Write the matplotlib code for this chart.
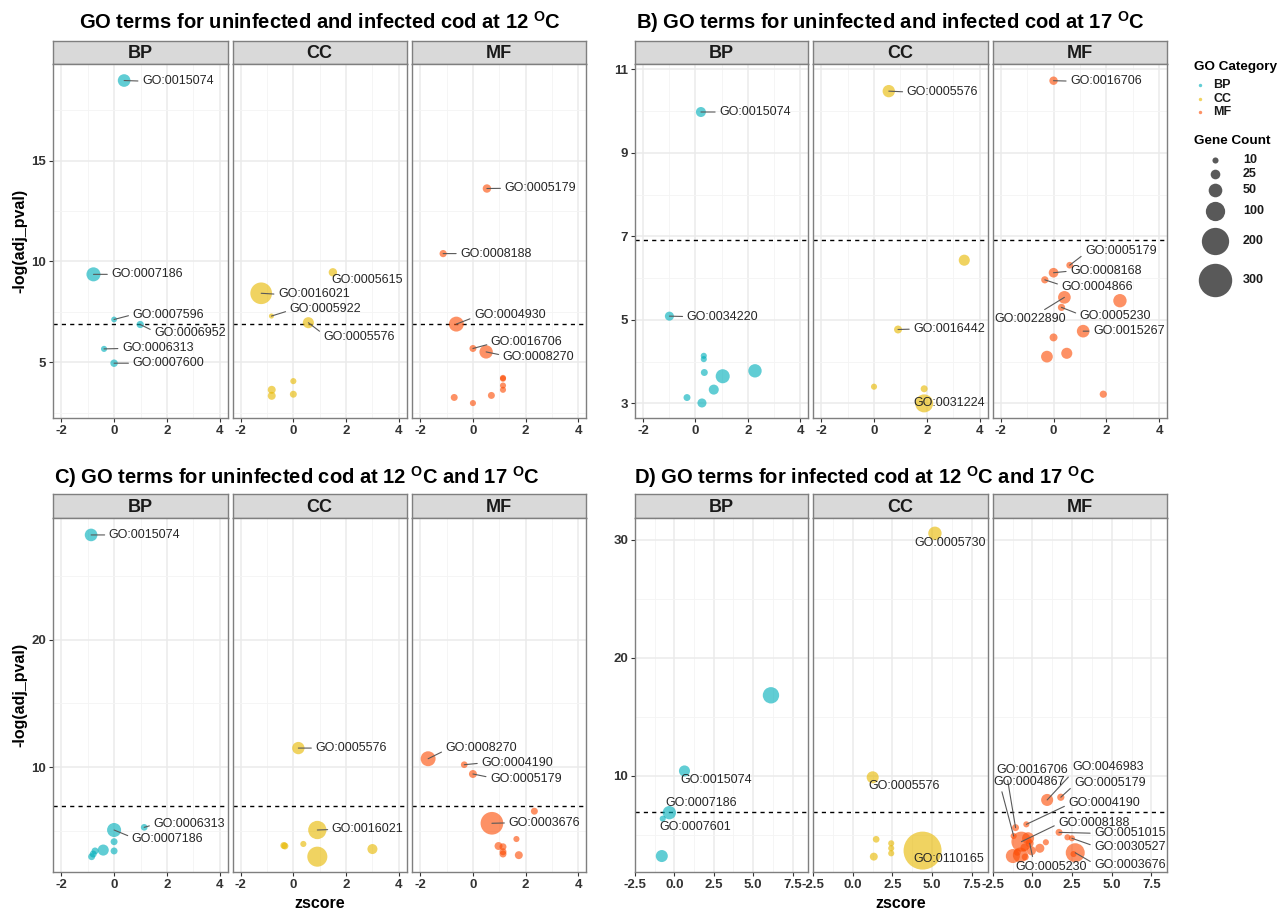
import matplotlib
matplotlib.use("Agg")
import matplotlib.pyplot as plt

plt.rcParams["font.family"] = "Liberation Sans"
plt.rcParams["mathtext.fontset"] = "custom"
plt.rcParams["mathtext.rm"] = "Liberation Sans"
plt.rcParams["mathtext.bf"] = "Liberation Sans:bold"
plt.rcParams["axes.unicode_minus"] = False

W, H = 1284, 913
CATS = ["BP", "CC", "MF"]
COLORS = {"BP": "#00AFBB", "CC": "#E7B800", "MF": "#FC4E07"}
THRESH = 6.908  # -log(0.001)

# ---------------------------------------------------------------------------
# A) uninfected vs infected, 12 C
# ---------------------------------------------------------------------------
a_cat = ["BP"] * 6 + ["CC"] * 8 + ["MF"] * 12
a_z = [0.38, -0.78, 0.0, 0.99, -0.38, 0.0,
       1.5, -1.22, -0.83, 0.57, -0.82, -0.82, 0.0, 0.0,
       0.53, -1.13, -0.63, 0.0, 0.5, 1.14, 1.14, 1.14, 1.14, 0.70, -0.71, 0.0]
a_y = [18.98, 9.36, 7.12, 6.87, 5.66, 4.95,
       9.46, 8.42, 7.29, 6.96, 3.63, 3.33, 4.06, 3.41,
       13.62, 10.39, 6.89, 5.68, 5.51, 4.18, 4.22, 3.84, 3.63, 3.35, 3.25, 2.97]
a_n = [43, 53, 9, 14, 10, 15,
       19, 126, 7, 33, 17, 17, 10, 13,
       19, 14, 60, 13, 48, 10, 10, 10, 10, 13, 13, 10]
a_term = ["GO:0015074", "GO:0007186", "GO:0007596", "GO:0006952", "GO:0006313", "GO:0007600",
          "GO:0005615", "GO:0016021", "GO:0005922", "GO:0005576", "", "", "", "",
          "GO:0005179", "GO:0008188", "GO:0004930", "GO:0016706", "GO:0008270",
          "", "", "", "", "", "", ""]

# ---------------------------------------------------------------------------
# B) uninfected vs infected, 17 C
# ---------------------------------------------------------------------------
b_cat = ["BP"] * 10 + ["CC"] * 6 + ["MF"] * 12
b_z = [0.21, -0.99, 0.32, 0.32, 0.34, 1.04, 2.27, 0.70, -0.32, 0.25,
       0.56, 3.42, 0.91, 0.0, 1.90, 1.90,
       0.0, 0.61, 0.0, -0.33, 0.41, 0.30, 2.51, 1.12, 0.0, -0.25, 0.50, 1.88]
b_y = [9.98, 5.09, 4.14, 4.06, 3.74, 3.65, 3.78, 3.33, 3.14, 3.01,
       10.48, 6.43, 4.77, 3.40, 3.35, 3.00,
       10.73, 6.31, 6.13, 5.96, 5.54, 5.30, 5.46, 4.73, 4.58, 4.12, 4.20, 3.22]
b_n = [27, 22, 10, 10, 13, 53, 48, 27, 13, 22,
       41, 33, 17, 10, 13, 87,
       19, 12, 25, 14, 43, 14, 48, 43, 17, 37, 33, 14]
b_term = ["GO:0015074", "GO:0034220", "", "", "", "", "", "", "", "",
          "GO:0005576", "", "GO:0016442", "", "", "GO:0031224",
          "GO:0016706", "GO:0005179", "GO:0008168", "GO:0004866", "GO:0022890",
          "GO:0005230", "", "GO:0015267", "", "", "", ""]

# ---------------------------------------------------------------------------
# C) uninfected, 12 C vs 17 C
# ---------------------------------------------------------------------------
c_cat = ["BP"] * 9 + ["CC"] * 7 + ["MF"] * 11
c_z = [-0.87, 1.14, 0.0, 0.0, 0.0, -0.41, -0.72, -0.79, -0.85,
       0.19, 0.91, 0.91, -0.36, -0.32, 0.38, 3.0,
       -1.70, -0.33, 0.0, 2.33, 0.72, 1.65, 0.97, 1.14, 1.14, 1.14, 1.74]
c_y = [28.27, 5.25, 5.04, 4.12, 3.39, 3.46, 3.39, 3.15, 2.94,
       11.49, 5.04, 2.94, 3.82, 3.78, 3.94, 3.54,
       10.65, 10.18, 9.45, 6.52, 5.57, 4.33, 3.78, 3.72, 3.33, 3.15, 3.06]
c_n = [43, 12, 53, 13, 13, 33, 13, 13, 13,
       41, 90, 108, 13, 13, 10, 27,
       60, 12, 17, 13, 138, 10, 17, 13, 13, 13, 17]
c_term = ["GO:0015074", "GO:0006313", "GO:0007186", "", "", "", "", "", "",
          "GO:0005576", "GO:0016021", "", "", "", "", "",
          "GO:0008270", "GO:0004190", "GO:0005179", "", "GO:0003676",
          "", "", "", "", "", ""]

# ---------------------------------------------------------------------------
# D) infected, 12 C vs 17 C
# ---------------------------------------------------------------------------
d_cat = ["BP"] * 5 + ["CC"] * 8 + ["MF"] * 21
d_z = [6.13, 0.64, -0.32, -0.74, -0.80,
       5.18, 1.25, 4.40, 1.47, 1.32, 2.42, 2.42, 2.42,
       0.93, 1.79, -0.38, -1.06, -1.18, -0.69, -0.27, -0.17, -0.06, -0.76, -1.23,
       0.47, 0.85, 1.68, 2.21, 2.49, 2.70, 2.59, -0.50, -0.95, -0.45]
d_y = [16.82, 10.40, 6.86, 6.35, 3.18,
       30.57, 9.86, 3.64, 4.60, 3.13, 4.26, 3.84, 3.41,
       7.94, 8.17, 5.87, 5.59, 4.88, 4.40, 4.69, 4.26, 3.63, 3.27, 3.18,
       3.84, 4.35, 5.19, 4.77, 4.69, 3.46, 3.35, 3.90, 3.50, 3.10]
d_n = [72, 33, 48, 10, 39,
       48, 39, 388, 12, 17, 10, 10, 10,
       39, 14, 10, 13, 10, 108, 39, 17, 22, 60, 53,
       22, 10, 13, 10, 10, 97, 10, 17, 13, 13]
d_term = ["", "GO:0015074", "GO:0007186", "GO:0007601", "",
          "GO:0005730", "GO:0005576", "GO:0110165", "", "", "", "", "",
          "GO:0046983", "GO:0005179", "GO:0004190", "GO:0016706", "GO:0004867",
          "GO:0008188", "", "GO:0005230", "", "", "",
          "", "", "GO:0051015", "", "GO:0030527", "GO:0003676", "", "", "", ""]

LEGEND_COUNTS = [10, 25, 50, 100, 200, 300]

# label placement: term -> (text x, text y, leader anchor on text box or None)
A_LABELS = {
    "BP": {"GO:0015074": (1.06, 18.95, (0, .5)), "GO:0007186": (-0.10, 9.36, (0, .5)),
           "GO:0007596": (0.70, 7.36, (0, .5)), "GO:0006952": (1.52, 6.47, (0, .6)),
           "GO:0006313": (0.30, 5.68, (0, .5)), "GO:0007600": (0.70, 4.95, (0, .5))},
    "CC": {"GO:0005615": (1.46, 9.10, None), "GO:0016021": (-0.58, 8.37, (0, .5)),
           "GO:0005922": (-0.14, 7.63, (0, .4)), "GO:0005576": (1.14, 6.27, (0, .7))},
    "MF": {"GO:0005179": (1.20, 13.63, (0, .5)), "GO:0008188": (-0.48, 10.39, (0, .5)),
           "GO:0004930": (0.04, 7.35, (0, .3)), "GO:0016706": (0.68, 5.98, (0, .4)),
           "GO:0008270": (1.13, 5.28, (0, .6))},
}
B_LABELS = {
    "BP": {"GO:0015074": (0.91, 9.98, (0, .5)), "GO:0034220": (-0.33, 5.08, (0, .5))},
    "CC": {"GO:0005576": (1.24, 10.46, (0, .5)), "GO:0016442": (1.49, 4.78, (0, .5)),
           "GO:0031224": (1.49, 3.0, None)},
    "MF": {"GO:0016706": (0.63, 10.72, (0, .5)), "GO:0005179": (1.19, 6.65, (0, .3)),
           "GO:0008168": (0.63, 6.17, (0, .5)), "GO:0004866": (0.30, 5.80, (0, .6)),
           "GO:0022890": (-2.23, 5.02, (0.62, 1)), "GO:0005230": (0.99, 5.10, (0, .6)),
           "GO:0015267": (1.49, 4.73, (0, .5))},
}
C_LABELS = {
    "BP": {"GO:0015074": (-0.20, 28.27, (0, .5)), "GO:0006313": (1.49, 5.55, (0, .4)),
           "GO:0007186": (0.67, 4.37, (0, .6))},
    "CC": {"GO:0005576": (0.84, 11.49, (0, .5)), "GO:0016021": (1.46, 5.08, (0, .5))},
    "MF": {"GO:0008270": (-1.04, 11.52, (0, .3)), "GO:0004190": (0.32, 10.31, (0, .5)),
           "GO:0005179": (0.65, 9.08, (0, .6)), "GO:0003676": (1.35, 5.60, (0, .5))},
}
D_LABELS = {
    "BP": {"GO:0015074": (0.36, 9.63, None), "GO:0007186": (-0.55, 7.66, None),
           "GO:0007601": (-0.97, 5.62, None)},
    "CC": {"GO:0005730": (3.86, 29.72, None), "GO:0005576": (0.99, 9.13, None),
           "GO:0110165": (3.85, 2.90, None)},
    "MF": {"GO:0016706": (-2.28, 10.48, (0.15, 0)), "GO:0004867": (-2.44, 9.49, (0.1, 0)),
           "GO:0046983": (2.49, 10.71, (0, 0)), "GO:0005179": (2.63, 9.41, (0, .3)),
           "GO:0004190": (2.27, 7.66, (0, .4)), "GO:0008188": (1.63, 6.01, (0, .4)),
           "GO:0051015": (3.90, 5.11, (0, .5)), "GO:0030527": (3.90, 3.92, (0, .6)),
           "GO:0005230": (-1.06, 2.28, (0.25, 1)), "GO:0003676": (3.90, 2.42, (0, .6))},
}

LEFT_COLS = [(53.3, 227.7), (232.7, 406.7), (412.3, 586.3)]
RIGHT_COLS = [(635.0, 808.3), (813.3, 987.5), (992.7, 1167.3)]
TOP_ROW = (41.0, 64.0, 418.0)       # strip top, panel top, panel bottom
BOTTOM_ROW = (494.3, 518.3, 872.3)

fig = plt.figure(figsize=(W / 100, H / 100), dpi=100)


def px_axes(x0, y0, x1, y1):
    return fig.add_axes([x0 / W, 1 - y1 / H, (x1 - x0) / W, (y1 - y0) / H])


def size(n):
    return [1.93 * v for v in n]


def draw_panel(cat, z, y, n, term, labels, cols, row, xlim, ylim,
               xmajor, xminor, ymajor, yminor, xfmt):
    s_top, p_top, p_bot = row
    for i, c in enumerate(CATS):
        x0, x1 = cols[i]
        strip = px_axes(x0, s_top, x1, p_top)
        strip.set_facecolor("#D9D9D9")
        strip.set_xticks([])
        strip.set_yticks([])
        for sp in strip.spines.values():
            sp.set_color("#7F7F7F")
            sp.set_linewidth(1.0)
        strip.text(0.5, 0.45, c, transform=strip.transAxes, ha="center", va="center",
                   fontsize=13, fontweight="bold", color="#1A1A1A")

        ax = px_axes(x0, p_top, x1, p_bot)
        ax.set_facecolor("white")
        ax.set_xlim(*xlim)
        ax.set_ylim(*ylim)
        ax.set_xticks(xmajor, labels=[xfmt(v) for v in xmajor], fontsize=9.5,
                      fontweight="bold", color="#333333")
        ax.set_xticks(xminor, minor=True)
        ax.set_yticks(yminor, minor=True)
        ax.tick_params(which="major", length=3, width=0.8, color="#333333", pad=2)
        ax.tick_params(which="minor", length=0)
        if i == 0:
            ax.set_yticks(ymajor, labels=[f"{v:g}" for v in ymajor], fontsize=9.5,
                          fontweight="bold", color="#333333")
        else:
            # only the first facet of a row carries y ticks
            ax.set_yticks(ymajor)
            ax.yaxis.set_ticks_position("none")
            ax.yaxis.set_tick_params(which="both", length=0, labelleft=False)
        ax.grid(which="major", color="#EBEBEB", lw=1.1)
        ax.grid(which="minor", color="#F4F4F4", lw=0.6)
        ax.set_axisbelow(True)
        for sp in ax.spines.values():
            sp.set_color("#7F7F7F")
            sp.set_linewidth(1.0)

        idx = [k for k in range(len(cat)) if cat[k] == c]
        ax.axhline(THRESH, color="black", lw=1.0, ls=(0, (3, 3)), zorder=2)
        ax.scatter([z[k] for k in idx], [y[k] for k in idx],
                   s=size([n[k] for k in idx]), color=COLORS[c], alpha=0.62,
                   linewidths=0, zorder=3)

        for k in idx:
            if not term[k] or term[k] not in labels[c]:
                continue
            lx, ly, rel = labels[c][term[k]]
            if rel is None:
                ax.text(lx, ly, term[k], ha="left", va="center", fontsize=9,
                        color="#262626", zorder=5)
            else:
                ax.annotate(term[k], xy=(z[k], y[k]), xytext=(lx, ly),
                            ha="left", va="center", fontsize=9, color="#262626",
                            zorder=5, annotation_clip=False,
                            arrowprops=dict(arrowstyle="-", color="#595959", lw=0.8,
                                            shrinkA=1, shrinkB=0, relpos=rel))


int_fmt = lambda v: f"{v:g}"
dec_fmt = lambda v: f"{v:.1f}"

draw_panel(a_cat, a_z, a_y, a_n, a_term, A_LABELS, LEFT_COLS, TOP_ROW,
           (-2.3, 4.3), (2.23, 19.8), [-2, 0, 2, 4], [-1, 1, 3],
           [5, 10, 15], [2.5, 7.5, 12.5, 17.5], int_fmt)
draw_panel(b_cat, b_z, b_y, b_n, b_term, B_LABELS, RIGHT_COLS, TOP_ROW,
           (-2.3, 4.3), (2.65, 11.13), [-2, 0, 2, 4], [-1, 1, 3],
           [3, 5, 7, 9, 11], [4, 6, 8, 10], int_fmt)
draw_panel(c_cat, c_z, c_y, c_n, c_term, C_LABELS, LEFT_COLS, BOTTOM_ROW,
           (-2.3, 4.3), (1.71, 29.58), [-2, 0, 2, 4], [-1, 1, 3],
           [10, 20], [5, 15, 25], int_fmt)
draw_panel(d_cat, d_z, d_y, d_n, d_term, D_LABELS, RIGHT_COLS, BOTTOM_ROW,
           (-2.5, 8.5), (1.8, 31.84), [-2.5, 0, 2.5, 5, 7.5], [-1.25, 1.25, 3.75, 6.25],
           [10, 20, 30], [5, 15, 25], dec_fmt)

# titles, axis titles and legend in figure pixel space
ov = fig.add_axes([0, 0, 1, 1])
ov.set_xlim(0, W)
ov.set_ylim(H, 0)
ov.axis("off")

deg = r"$^{\mathbf{O}}$"
tkw = dict(fontsize=14.5, fontweight="bold", color="black", va="center")
ov.text(320, 22, f"GO terms for uninfected and infected cod at 12 {deg}C", ha="center", **tkw)
ov.text(636, 22, f"B) GO terms for uninfected and infected cod at 17 {deg}C", ha="left", **tkw)
ov.text(54, 477, f"C) GO terms for uninfected cod at 12 {deg}C and 17 {deg}C", ha="left", **tkw)
ov.text(634, 477, f"D) GO terms for infected cod at 12 {deg}C and 17 {deg}C", ha="left", **tkw)

akw = dict(fontsize=11.5, fontweight="bold", color="black", ha="center", va="center")
ov.text(20, 241, "-log(adj_pval)", rotation=90, **akw)
ov.text(20, 695, "-log(adj_pval)", rotation=90, **akw)
ov.text(320, 903, "zscore", **akw)
ov.text(901, 903, "zscore", **akw)

ov.text(1194, 67, "GO Category", fontsize=9.7, fontweight="bold", va="center")
for c, yy in zip(CATS, [85, 99.3, 111.7]):
    ov.scatter([1200], [yy], s=6, color=COLORS[c], alpha=0.62, linewidths=0)
    ov.text(1213, yy, c, fontsize=9, fontweight="bold", va="center", color="#1A1A1A")

ov.text(1194, 141, "Gene Count", fontsize=9.7, fontweight="bold", va="center")
for cnt, yy in zip(LEGEND_COUNTS, [160.3, 174, 190, 211, 241.3, 280]):
    ov.scatter([1214.8], [yy], s=size([cnt]), color="black", alpha=0.65, linewidths=0)
    ov.text(1243, yy, str(cnt), fontsize=9, fontweight="bold", va="center", color="#1A1A1A")

fig.savefig("out.png", dpi=100)
